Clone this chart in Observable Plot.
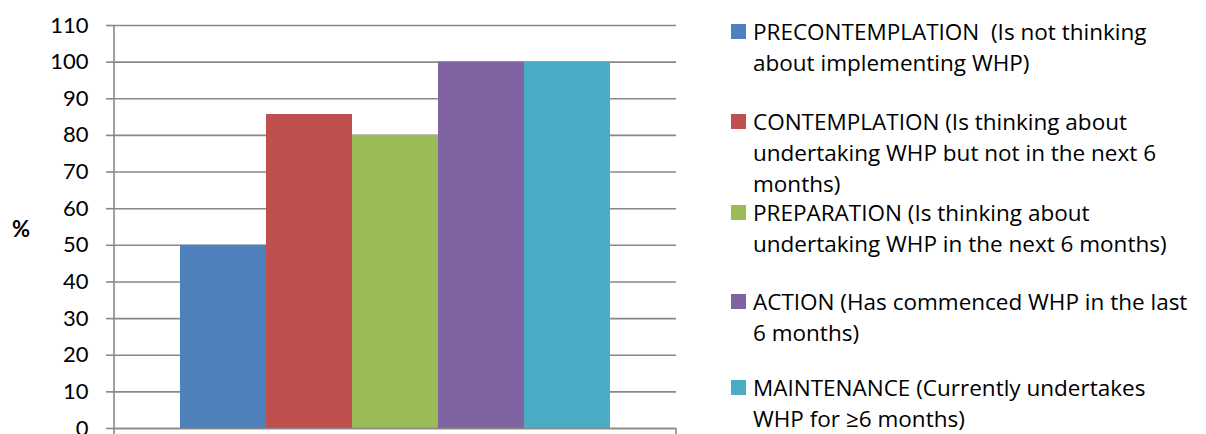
<!DOCTYPE html>
<html>
<head>
<meta charset="utf-8">
<script src="https://cdn.jsdelivr.net/npm/d3@7"></script>
<script src="https://cdn.jsdelivr.net/npm/@observablehq/plot@0.6"></script>
<style>
  html, body { margin: 0; padding: 0; background: #fff; }
  #wrap { position: relative; width: 1206px; height: 434px; font-family: Lato, "Open Sans", sans-serif; }
  #chart { position: absolute; left: 0; top: 0; }
  .item { position: absolute; left: 731px; }
  .sw { position: absolute; left: 0; width: 15px; height: 15px; }
  .txt { position: absolute; left: 22px; font-family: "Open Sans", sans-serif; font-size: 22.5px; line-height: 31px; white-space: pre; color: #000; }
  #pct { position: absolute; left: 12px; top: 214px; font-size: 22px; font-weight: bold; line-height: 30px; }
</style>
</head>
<body>
<div id="wrap">
  <div id="chart"></div>
  <div id="pct">%</div>
  <div id="legend"></div>
</div>
<script>
const categories = ["PRECONTEMPLATION", "CONTEMPLATION", "PREPARATION", "ACTION", "MAINTENANCE"];
const values = [50, 85.7, 80, 100, 100];
const colors = ["#4F81BD", "#C0504D", "#9BBB59", "#8064A2", "#4BACC6"];
const legendLines = [
  ["PRECONTEMPLATION  (Is not thinking", "about implementing WHP)"],
  ["CONTEMPLATION (Is thinking about", "undertaking WHP but not in the next 6", "months)"],
  ["PREPARATION (Is thinking about", "undertaking WHP in the next 6 months)"],
  ["ACTION (Has commenced WHP in the last", "6 months)"],
  ["MAINTENANCE (Currently undertakes", "WHP for \u22656 months)"]
];
const legendCenters = [31, 121, 212, 301, 387];
const yTicks = d3.range(0, 111, 10);

const data = categories.map((c, i) => ({cat: c, value: values[i]}));

const plot = Plot.plot({
  width: 690, height: 434,
  marginLeft: 114, marginRight: 14, marginTop: 25, marginBottom: 6,
  style: {fontFamily: "Lato, 'Open Sans', sans-serif", background: "white"},
  x: {domain: categories, paddingInner: 0, paddingOuter: 0.752, axis: null},
  y: {domain: [0, 110]},
  color: {domain: categories, range: colors},
  marks: [
    Plot.gridY(yTicks, {stroke: "#888", strokeOpacity: 1, strokeWidth: 1.6}),
    Plot.axisY(yTicks, {tickSize: 8, tickPadding: 18, stroke: "#888", strokeWidth: 1.6, color: "#000", fill: "#000", fontSize: 22, label: null}),
    Plot.barY(data, {x: "cat", y: "value", fill: "cat"}),
    Plot.ruleY([0], {stroke: "#888", strokeWidth: 1.6})
  ]
});
document.getElementById("chart").appendChild(plot);

// axis lines using the plot's scales
const ys = plot.scale("y"), xs = plot.scale("x");
const y0 = ys.apply(0), yTop = ys.apply(110);
const [xl, xr] = xs.range;
const svg = d3.select(plot);
svg.append("line").attr("x1", xl).attr("x2", xl).attr("y1", yTop).attr("y2", y0 + 6)
  .attr("stroke", "#888").attr("stroke-width", 1.6);
svg.append("line").attr("x1", xr).attr("x2", xr).attr("y1", y0).attr("y2", y0 + 6)
  .attr("stroke", "#888").attr("stroke-width", 1.6);

// legend
const legend = document.getElementById("legend");
legendLines.forEach((lines, i) => {
  const item = document.createElement("div");
  item.className = "item";
  item.style.top = (legendCenters[i] - 15.5) + "px";
  const sw = document.createElement("div");
  sw.className = "sw";
  sw.style.background = colors[i];
  sw.style.top = (15.5 - 7.5) + "px";
  const txt = document.createElement("div");
  txt.className = "txt";
  txt.textContent = lines.join("\n");
  item.appendChild(sw);
  item.appendChild(txt);
  legend.appendChild(item);
});
</script>
</body>
</html>
